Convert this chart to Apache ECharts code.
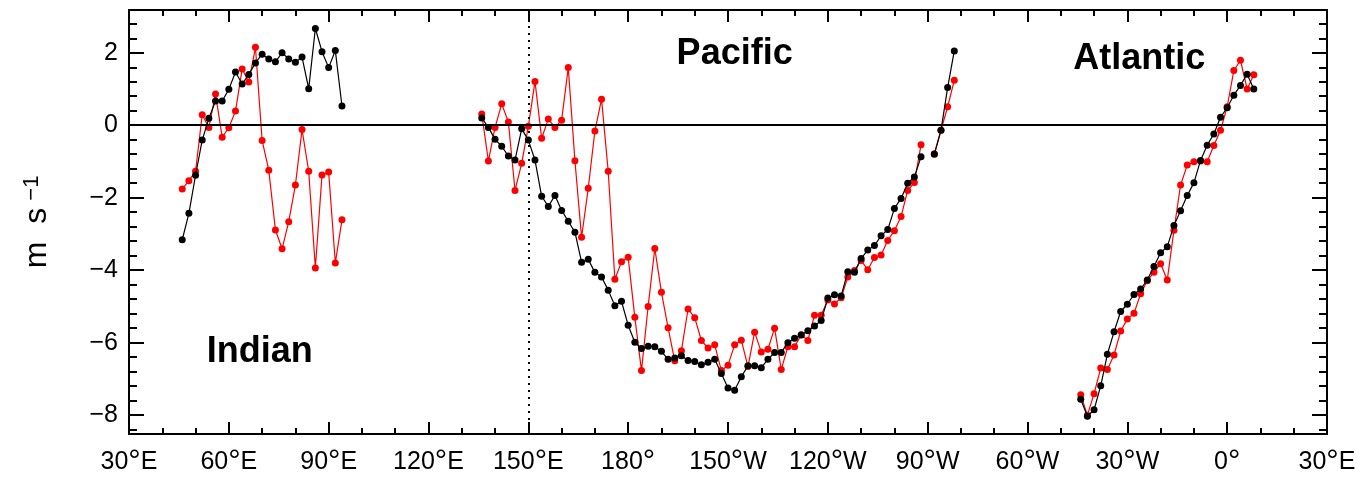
<!DOCTYPE html>
<html>
<head>
<meta charset="utf-8">
<script src="https://cdn.jsdelivr.net/npm/echarts@6/dist/echarts.min.js"></script>
<style>
  html, body { margin: 0; padding: 0; background: #fff; }
  #chart { width: 1364px; height: 480px; }
</style>
</head>
<body>
<div id="chart"></div>
<script>
// Equatorial zonal wind (m s-1) along the three ocean basins, sampled every 2° of longitude.
// Longitudes run eastward from 30°E through the date line to 390 (= 30°E again).
const LON_STEP = 2;

const indianStartLon = 46;
const indianBlack = [-3.16, -2.43, -1.38, -0.41, 0.19, 0.67, 0.67, 0.99, 1.47, 1.14, 1.40, 1.72, 1.96,
  1.83, 1.75, 2.00, 1.83, 1.74, 1.88, 1.01, 2.67, 2.03, 1.59, 2.06, 0.53];
const indianRed = [-1.76, -1.53, -1.27, 0.29, -0.06, 0.86, -0.33, -0.07, 0.39, 1.55, 1.19, 2.15, -0.42,
  -1.24, -2.89, -3.41, -2.66, -1.65, -0.12, -1.27, -3.94, -1.37, -1.29, -3.80, -2.61];

const pacificStartLon = 136;
const pacificBlack = [0.20, -0.06, -0.39, -0.58, -0.85, -0.96, -0.10, -0.41, -0.96, -1.96,
  -2.24, -1.94, -2.35, -2.65, -2.95, -3.78, -3.70, -4.06, -4.19, -4.55,
  -4.98, -4.86, -5.52, -5.99, -6.16, -6.10, -6.11, -6.24, -6.46, -6.42,
  -6.36, -6.49, -6.52, -6.61, -6.54, -6.46, -6.85, -7.25, -7.31, -6.94,
  -6.64, -6.64, -6.69, -6.46, -6.27, -6.27, -6.00, -5.88, -5.79, -5.67,
  -5.54, -5.39, -4.77, -4.68, -4.71, -4.04, -4.06, -3.68, -3.44, -3.32,
  -3.05, -2.88, -2.30, -2.02, -1.60, -1.43, -0.87, null, -0.80, -0.14,
  1.04, 2.05];
const pacificRed = [0.31, -0.99, -0.06, 0.59, 0.09, -1.80, -1.05, -0.03, 1.21, -0.36,
  0.17, -0.06, 0.14, 1.59, -0.98, -3.09, -1.74, -0.16, 0.72, -1.27,
  -4.25, -3.77, -3.64, -5.30, -6.77, -5.00, -3.40, -4.61, -5.59, -6.50,
  -6.22, -5.07, -5.31, -5.94, -6.15, -6.06, -6.77, -6.62, -6.06, -5.93,
  -6.66, -5.71, -6.26, -6.18, -5.60, -6.74, -6.11, -6.11, -5.78, -5.94,
  -5.24, -5.24, -4.82, -4.93, -4.76, -4.19, -4.01, -3.73, -3.99, -3.65,
  -3.58, -3.18, -2.91, -2.52, -1.80, -1.58, -0.54, null, -0.79, -0.14,
  0.51, 1.24];

const atlanticStartLon = 316;
const atlanticBlack = [-7.56, -8.03, -7.85, -7.19, -6.32, -5.70, -5.14, -4.94, -4.67, -4.52,
  -4.27, -3.90, -3.52, -3.35, -2.77, -2.36, -1.94, -1.59, -0.97, -0.55,
  -0.24, 0.22, 0.48, 0.83, 1.10, 1.41, 1.00];
const atlanticRed = [-7.44, -8.00, -7.41, -6.70, -6.74, -6.34, -5.68, -5.35, -5.19, -4.65,
  -4.29, -4.06, -3.82, -4.27, -2.90, -1.65, -1.10, -1.01, -0.99, -1.01,
  -0.56, -0.14, 0.51, 1.51, 1.79, 1.00, 1.39];

// Axis ticks
const lonMin = 30, lonMax = 390, lonMajorStep = 30;
const windMin = -8.52, windMax = 3.18;
const windMajorTicks = [-8, -6, -4, -2, 0, 2];
const windMinorTicks = [-8.4, -7.6, -7.2, -6.8, -6.4, -5.6, -5.2, -4.8, -4.4, -3.6, -3.2, -2.8, -2.4,
  -1.6, -1.2, -0.8, -0.4, 0.4, 0.8, 1.2, 1.6, 2.4, 2.8];

// Basin captions, anchored in data coordinates [lon, wind]
const basinNames = ['Indian', 'Pacific', 'Atlantic'];
const basinNameLon = [69.3, 212, 333.6];
const basinNameWind = [-6.26, 1.95, 1.82];

const FONT = '"Liberation Sans", Arial, Helvetica, sans-serif';
const BLACK = '#000000';
const RED = '#ff0000';

function alongLon(startLon, values) {
  return values.map((v, i) => [startLon + i * LON_STEP, v === null ? '-' : v]);
}

function lonLabel(v) {
  const l = ((v % 360) + 360) % 360;
  if (l === 0) return '{n|0}{d|\u00b0}';
  if (l === 180) return '{n|180}{d|\u00b0}';
  if (l < 180) return '{n|' + l + '}{d|\u00b0}{n|E}';
  return '{n|' + (360 - l) + '}{d|\u00b0}{n|W}';
}

function windLabel(v) {
  return v < 0 ? '\u2212' + Math.abs(v) : String(v);
}

const lonRich = {
  n: { fontFamily: FONT, fontSize: 25, lineHeight: 28, color: BLACK },
  d: { fontFamily: FONT, fontSize: 31, lineHeight: 28, color: BLACK, padding: [0, 0, 0, 0] }
};

function lonAxis(position, showLabels) {
  return {
    type: 'value', position: position, min: lonMin, max: lonMax, interval: lonMajorStep,
    axisLine: { show: true, onZero: false, lineStyle: { color: BLACK, width: 2 } },
    axisTick: { show: true, inside: true, length: 12, lineStyle: { color: BLACK, width: 2 } },
    minorTick: { show: true, splitNumber: 3, length: 6, lineStyle: { color: BLACK, width: 2 } },
    axisLabel: { show: showLabels, margin: 14, formatter: lonLabel, rich: lonRich },
    splitLine: { show: false }
  };
}

function windAxis(position, ticks, tickLen, showLine, extra) {
  return Object.assign({
    type: 'value', position: position, min: windMin, max: windMax,
    axisLine: { show: showLine, onZero: false, lineStyle: { color: BLACK, width: 2 } },
    axisTick: { show: true, inside: true, length: tickLen, customValues: ticks,
      lineStyle: { color: BLACK, width: 2 } },
    axisLabel: { show: false },
    splitLine: { show: false }
  }, extra || {});
}

function lineSeries(data, color, z) {
  return {
    type: 'line', data: data, z: z,
    symbol: 'circle', symbolSize: 7, showSymbol: true,
    connectNulls: false,
    lineStyle: { color: color, width: 1.2 },
    itemStyle: { color: color },
    emphasis: { disabled: true },
    animation: false
  };
}

const chart = echarts.init(document.getElementById('chart'), null, { renderer: 'canvas' });

const series = [
  {
    type: 'line', data: [], z: 1, silent: true,
    markLine: {
      silent: true, symbol: 'none', animation: false,
      label: { show: false },
      data: [
        { yAxis: 0, lineStyle: { color: BLACK, width: 2, type: 'solid' } },
        { xAxis: 150, lineStyle: { color: BLACK, width: 2, type: [2, 5] } }
      ]
    }
  },
  lineSeries(alongLon(indianStartLon, indianRed), RED, 2),
  lineSeries(alongLon(pacificStartLon, pacificRed), RED, 2),
  lineSeries(alongLon(atlanticStartLon, atlanticRed), RED, 2),
  lineSeries(alongLon(indianStartLon, indianBlack), BLACK, 3),
  lineSeries(alongLon(pacificStartLon, pacificBlack), BLACK, 3),
  lineSeries(alongLon(atlanticStartLon, atlanticBlack), BLACK, 3)
];

chart.setOption({
  backgroundColor: '#ffffff',
  animation: false,
  grid: { left: 129, right: 37, top: 10, bottom: 46, outerBoundsMode: 'none', containLabel: false },
  xAxis: [lonAxis('bottom', true), lonAxis('top', false)],
  yAxis: [
    windAxis('left', windMajorTicks, 15, true, {
      axisLabel: { show: true, customValues: windMajorTicks, formatter: windLabel, margin: 11,
        fontFamily: FONT, fontSize: 25, color: BLACK },
      name: '{m|m}{s|s}{p|\u22121}',
      nameLocation: 'middle', nameRotate: 90, nameGap: 76,
      nameTextStyle: {
        rich: {
          m: { fontFamily: FONT, fontSize: 32, color: BLACK, padding: [0, 18, 0, 0] },
          s: { fontFamily: FONT, fontSize: 32, color: BLACK, padding: [0, 7, 0, 0] },
          p: { fontFamily: FONT, fontSize: 22, color: BLACK, verticalAlign: 'top' }
        }
      }
    }),
    windAxis('left', windMinorTicks, 8, false),
    windAxis('right', windMajorTicks, 15, true),
    windAxis('right', windMinorTicks, 8, false)
  ],
  series: series
});

// Basin captions placed through the grid's own coordinate conversion
chart.setOption({
  graphic: basinNames.map((name, i) => {
    const pt = chart.convertToPixel({ gridIndex: 0 }, [basinNameLon[i], basinNameWind[i]]);
    return {
      type: 'text', x: pt[0], y: pt[1], z: 10, silent: true,
      style: {
        text: name, fill: BLACK, align: 'center', verticalAlign: 'middle',
        font: 'bold 36px ' + FONT
      }
    };
  })
});
</script>
</body>
</html>
